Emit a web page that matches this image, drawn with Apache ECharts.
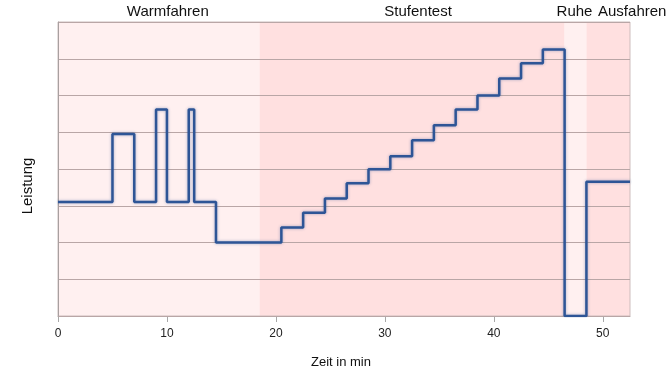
<!DOCTYPE html>
<html>
<head>
<meta charset="utf-8">
<script src="https://cdn.jsdelivr.net/npm/echarts@6/dist/echarts.min.js"></script>
<style>html,body{margin:0;padding:0;background:#fff}#c{width:667px;height:378px}</style>
</head>
<body>
<div id="c"></div>
<script>
// change times (min) and power level holding from that time
const times  = [0, 5, 7, 9, 10, 12, 12.5, 14.5, 20.5, 22.5, 24.5, 26.5, 28.5, 30.5, 32.5, 34.5, 36.5, 38.5, 40.5, 42.5, 44.5, 46.5, 48.5, 52.5];
const levels = [3.1, 4.95, 3.1, 5.62, 3.1, 5.62, 3.1, 2.0, 2.41, 2.81, 3.2, 3.61, 3.99, 4.35, 4.78, 5.19, 5.62, 6.0, 6.46, 6.88, 7.25, 0, 3.65, 3.65];
// phases
const phaseNames = ['Warmfahren', 'Stufentest', 'Ruhe', 'Ausfahren'];
const phaseStart = [0, 18.5, 46.5, 48.5];
const phaseEnd   = [18.5, 46.5, 48.5, 52.5];
const xTicks = [0, 10, 20, 30, 40, 50];

const phaseColors = ['#FFF0F0', '#FFE0E0', '#FFF0F0', '#FFE0E0'];
const labelOffsets = [[9, 0], [6, 0], [-1, 0], [24, 0]];

const chart = echarts.init(document.getElementById('c'), null, {renderer: 'canvas'});
const data = times.map((t, i) => [t, levels[i]]);
const areas = phaseNames.map((n, i) => [
  {name: n, xAxis: phaseStart[i], itemStyle: {color: phaseColors[i]},
   label: {show: true, position: 'top', distance: 3, offset: labelOffsets[i], color: '#111', fontSize: 15, fontFamily: 'Liberation Sans, Arial, sans-serif'}},
  {xAxis: phaseEnd[i]}
]);

chart.setOption({
  animation: false,
  grid: {left: 58, right: 37, top: 22, bottom: 62, show: true, borderColor: '#CDBDBD', borderWidth: 1, backgroundColor: 'transparent'},
  xAxis: {
    type: 'value', min: 0, max: 52.5, interval: 10,
    axisLine: {show: true, lineStyle: {color: '#A8A0A0', width: 1}},
    axisTick: {show: true, length: 6, customValues: xTicks, lineStyle: {color: '#A8A8A8'}},
    axisLabel: {customValues: xTicks, color: '#222', fontSize: 12, margin: 12, fontFamily: 'Liberation Sans, Arial, sans-serif'},
    splitLine: {show: false}
  },
  yAxis: {
    type: 'value', min: 0, max: 8, interval: 1, z: 3,
    axisLine: {show: true, lineStyle: {color: '#A8A0A0', width: 1}},
    axisTick: {show: false},
    axisLabel: {show: false},
    splitLine: {show: true, lineStyle: {color: '#B9A6A6', width: 1}}
  },
  graphic: [
    {type: 'text', x: 28, y: 186, rotation: Math.PI / 2, style: {text: 'Leistung', fill: '#111', fontSize: 15, fontFamily: 'Liberation Sans, Arial, sans-serif', align: 'center', verticalAlign: 'middle'}},
    {type: 'text', x: 341, y: 362, style: {text: 'Zeit in min', fill: '#111', fontSize: 13, fontFamily: 'Liberation Sans, Arial, sans-serif', align: 'center', verticalAlign: 'middle'}}
  ],
  series: [{
    type: 'line', data: [], z: -10, silent: true,
    markArea: {silent: true, z: -10, data: areas}
  }, {
    type: 'line', data: data, step: 'end', symbol: 'none',
    lineStyle: {color: '#2E5596', width: 2.5, shadowBlur: 3, shadowColor: 'rgba(46,85,150,0.45)'},
    z: 5
  }]
});
</script>
</body>
</html>
